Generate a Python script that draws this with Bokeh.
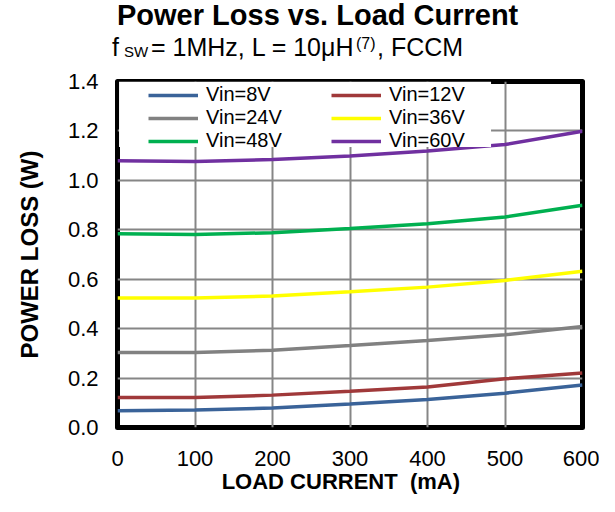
from bokeh.plotting import figure
from bokeh.layouts import column
from bokeh.models import (Range1d, FixedTicker, Legend, LegendItem,
                          BoxAnnotation, NumeralTickFormatter, Div)
from bokeh.embed import file_html
from bokeh.resources import INLINE

# ---- data ----
load_ma = [0, 100, 200, 300, 400, 500, 600]
vin_8 = [0.068, 0.071, 0.079, 0.095, 0.113, 0.139, 0.172]
vin_12 = [0.121, 0.121, 0.131, 0.147, 0.164, 0.197, 0.221]
vin_24 = [0.303, 0.303, 0.313, 0.332, 0.352, 0.375, 0.409]
vin_36 = [0.524, 0.524, 0.532, 0.549, 0.568, 0.595, 0.632]
vin_48 = [0.784, 0.781, 0.788, 0.805, 0.824, 0.852, 0.899]
vin_60 = [1.079, 1.076, 1.084, 1.099, 1.119, 1.145, 1.199]

series_names = ["Vin=8V", "Vin=12V", "Vin=24V", "Vin=36V", "Vin=48V", "Vin=60V"]
series_values = [vin_8, vin_12, vin_24, vin_36, vin_48, vin_60]
series_colors = ["#3A6399", "#A0393A", "#818181", "#FFFF00", "#00B050", "#7030A0"]

x_ticks = [0, 100, 200, 300, 400, 500, 600]
y_ticks = [0.0, 0.2, 0.4, 0.6, 0.8, 1.0, 1.2, 1.4]

title_text = "Power Loss vs. Load Current"
sub_parts = ["f", "SW", "= 1MHz, L = 10\u03bcH", "(7)", ", FCCM"]
x_title = "LOAD CURRENT\u00a0 (mA)\u00a0\u00a0\u00a0"
y_title = "POWER LOSS (W)"

FONT = "Liberation Sans"
W = 599

# ---- header (title + subtitle) as HTML text ----
HEAD_H = 67

def span(txt, left, baseline, size, weight="normal"):
    top = baseline - 0.8464 * size
    return (f'<span style="position:absolute;left:{left}px;top:{top:.1f}px;'
            f'font-size:{size}px;line-height:{size}px;font-weight:{weight};'
            f'white-space:nowrap;">{txt}</span>')

html = (f'<div style="position:relative;width:{W}px;height:{HEAD_H}px;'
        f'font-family:\'{FONT}\';color:black;">'
        + span(title_text, 117, 25, 29, "bold")
        + span(sub_parts[0], 112, 56, 25)
        + span(sub_parts[1], 124, 57, 15)
        + span(sub_parts[2], 151, 56, 25)
        + span(sub_parts[3], 356, 49, 16)
        + span(sub_parts[4], 377, 56, 25)
        + '</div>')
head = Div(text=html, width=W, height=HEAD_H, margin=0)

# ---- main chart ----
p = figure(width=W, height=496 - HEAD_H, output_backend="svg", toolbar_location=None,
           x_range=Range1d(0, 600), y_range=Range1d(0, 1.4),
           min_border_left=117, min_border_right=17,
           min_border_top=14, min_border_bottom=68)

p.background_fill_color = "white"
p.border_fill_color = "white"
p.outline_line_color = "black"
p.outline_line_width = 5
p.outline_line_join = "round"

for ax in (p.xaxis[0], p.yaxis[0]):
    ax.axis_line_color = None
    ax.major_tick_line_color = None
    ax.minor_tick_line_color = None
    ax.major_label_text_font = FONT
    ax.major_label_text_font_size = "22px"
    ax.major_label_text_color = "black"

p.xaxis[0].ticker = FixedTicker(ticks=x_ticks)
p.yaxis[0].ticker = FixedTicker(ticks=y_ticks)
p.yaxis[0].formatter = NumeralTickFormatter(format="0.0")
p.xaxis[0].major_label_standoff = 17
p.yaxis[0].major_label_standoff = 13

p.yaxis[0].axis_label = y_title
p.yaxis[0].axis_label_text_font = FONT
p.yaxis[0].axis_label_text_font_style = "bold"
p.yaxis[0].axis_label_text_font_size = "24px"
p.yaxis[0].axis_label_text_color = "black"
p.yaxis[0].axis_label_standoff = 22

p.xaxis[0].axis_label = x_title
p.xaxis[0].axis_label_text_font = FONT
p.xaxis[0].axis_label_text_font_style = "bold"
p.xaxis[0].axis_label_text_font_size = "22px"
p.xaxis[0].axis_label_text_color = "black"
p.xaxis[0].axis_label_standoff = 0

p.xgrid[0].ticker = FixedTicker(ticks=x_ticks)
p.ygrid[0].ticker = FixedTicker(ticks=y_ticks)
for g in (p.xgrid[0], p.ygrid[0]):
    g.grid_line_color = "#868686"
    g.grid_line_width = 2

renderers = []
for name, vals, col in zip(series_names, series_values, series_colors):
    r = p.line(load_ma, vals, line_color=col, line_width=3.5)
    renderers.append(r)

# white area behind the legend (hides grid lines)
p.add_layout(BoxAnnotation(left=2, right=482, bottom=1.135, top=1.4,
                           fill_color="white", fill_alpha=1.0, line_color=None))

items = [LegendItem(label=n, renderers=[r]) for n, r in zip(series_names, renderers)]
legend = Legend(items=items, location=(31, 275), orientation="horizontal", ncols=2,
                glyph_width=50, glyph_height=20, label_height=20, label_width=125,
                label_standoff=8, spacing=0, padding=3, margin=0,
                label_text_font=FONT, label_text_font_size="20px",
                label_text_line_height=1.0,
                label_text_color="black",
                background_fill_alpha=0.0, border_line_color=None)
p.add_layout(legend)

layout = column(head, p, spacing=0)
open("out.html", "w").write(file_html(layout, INLINE))
